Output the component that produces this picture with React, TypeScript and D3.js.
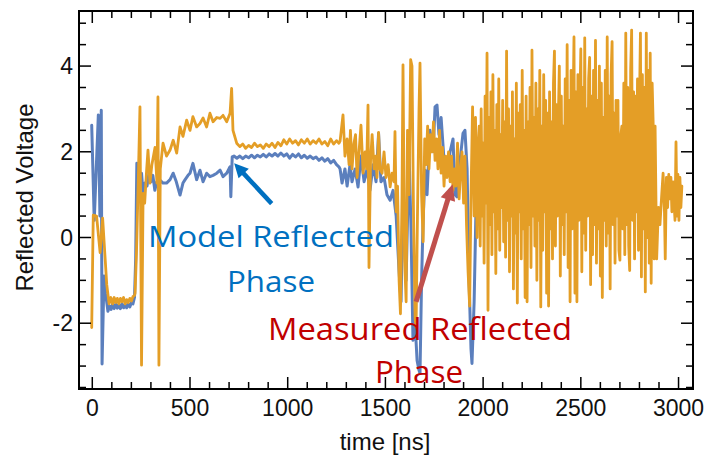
import React from "react";
import * as d3 from "d3";

type P = [number, number];

// Model reflected phase (blue): [time ns, voltage]
const modelPhase: P[] = [
  [-3, 2.62], [10, 0.4], [31, 2.86], [39, 0.5], [46, 2.97], [50, -2.95], [60, -0.9], [68, -1.3],
  [80, -1.72], [88, -1.6], [96, -1.68], [104, -1.55], [112, -1.66], [120, -1.55], [128, -1.65],
  [136, -1.56], [144, -1.66], [152, -1.55], [160, -1.64], [168, -1.56], [176, -1.64], [184, -1.55],
  [192, -1.62], [200, -1.52], [208, -1.55], [216, -1.4], [222, -0.5], [228, 1.73], [236, 1.4],
  [244, 1.2], [252, 1.5], [260, 1.03], [270, 1.27], [280, 1.2], [290, 1.5], [300, 1.3], [310, 1.45],
  [320, 1.1], [330, 1.3], [346, 1.34], [362, 1.27], [380, 1.27], [398, 1.35], [414, 1.5], [430, 1.3],
  [449, 0.99], [464, 1.27], [475, 1.35], [490, 1.45], [500, 1.5], [515, 1.73], [534, 1.35], [551, 1.57],
  [567, 1.3], [585, 1.5], [602, 1.42], [618, 1.45], [637, 1.5], [654, 1.57], [669, 1.42], [688, 1.5],
  [705, 1.65], [709, 0.95], [716, 1.88], [725, 1.9], [740, 1.85], [755, 1.9], [770, 1.84], [785, 1.9],
  [800, 1.86], [815, 1.92], [830, 1.86], [845, 1.92], [860, 1.88], [875, 1.94], [890, 1.88], [905, 1.95],
  [920, 1.9], [935, 1.96], [950, 1.9], [965, 1.97], [980, 1.9], [995, 1.95], [1010, 1.85], [1025, 1.94],
  [1040, 1.88], [1055, 1.95], [1070, 1.86], [1085, 1.92], [1100, 1.85], [1115, 1.9], [1130, 1.84],
  [1145, 1.88], [1160, 1.8], [1175, 1.86], [1190, 1.78], [1205, 1.84], [1220, 1.74], [1235, 1.8],
  [1250, 1.7], [1262, 1.65], [1268, 1.6], [1278, 1.27], [1293, 1.6], [1304, 1.2], [1319, 1.7],
  [1329, 1.3], [1345, 1.6], [1360, 1.18], [1375, 1.9], [1391, 1.3], [1406, 1.6], [1421, 1.1],
  [1437, 1.7], [1452, 1.3], [1465, 2.43], [1477, 1.3], [1493, 1.4], [1508, 1.0], [1524, 0.87],
  [1539, 1.1], [1555, 0.5], [1570, -0.8], [1580, -1.5], [1590, 1.0], [1606, -1.0], [1621, 2.0],
  [1631, 0.2], [1641, -2.4], [1652, -2.0], [1662, -2.87], [1672, -3.1], [1677, -3.17], [1685, -1.0],
  [1693, 0.4], [1703, 1.57], [1713, 1.0], [1728, 2.5], [1744, 2.0], [1754, 3.05], [1764, 3.09],
  [1774, 2.4], [1785, 2.8], [1800, 1.8], [1815, 1.5], [1831, 2.0], [1846, 2.3], [1856, 1.0],
  [1866, 0.95], [1882, 1.8], [1897, 2.43], [1907, 2.5], [1918, 1.6], [1928, -1.0], [1938, -2.6],
  [1943, -2.94], [1954, -1.5], [1964, 0.8],
];

// Measured reflected phase (orange), sparse part: [time ns, voltage]
const measuredSparse: P[] = [
  [-3, -2.1], [5, 0.52], [22, 0.5], [40, -0.35], [53, 0.45], [74, -1.1], [86, -1.55], [95, -1.4],
  [104, -1.55], [112, -1.4], [120, -1.52], [128, -1.42], [136, -1.55], [144, -1.42], [152, -1.5],
  [160, -1.4], [168, -1.55], [176, -1.45], [184, -1.52], [192, -1.42], [200, -1.48], [208, -1.38],
  [216, -1.35], [219, -1.3], [226, -0.37], [236, 1.45], [244, 3.05], [252, -2.98], [260, 1.03],
  [268, 0.8], [278, 1.57], [285, 2.04], [295, 1.27], [305, 1.7], [321, 2.1], [331, 1.27], [336, 3.28],
  [341, -2.98], [348, 1.6], [362, 2.2], [380, 1.9], [398, 2.04], [414, 2.27], [432, 1.97], [449, 2.58],
  [464, 2.36], [483, 2.74], [500, 2.5], [515, 2.82], [534, 2.58], [551, 2.66], [567, 2.79], [585, 2.58],
  [602, 2.9], [618, 2.7], [637, 2.8], [654, 2.78], [669, 2.85], [688, 2.7], [705, 2.9], [713, 3.48],
  [720, 2.5], [739, 2.2], [755, 2.12], [770, 2.18], [785, 2.08], [800, 2.15], [815, 2.1], [830, 2.2],
  [845, 2.12], [860, 2.16], [875, 2.08], [890, 2.18], [905, 2.12], [920, 2.2], [935, 2.1], [950, 2.22],
  [965, 2.14], [980, 2.28], [995, 2.18], [1010, 2.3], [1025, 2.2], [1040, 2.26], [1055, 2.16],
  [1070, 2.28], [1085, 2.2], [1100, 2.3], [1115, 2.18], [1130, 2.26], [1145, 2.2], [1160, 2.3],
  [1175, 2.18], [1190, 2.24], [1205, 2.14], [1220, 2.3], [1235, 2.18], [1250, 2.26], [1262, 2.2],
  [1268, 2.25], [1283, 2.86], [1293, 1.9], [1304, 2.3], [1314, 1.7], [1321, 2.5], [1329, 1.6],
  [1339, 2.2], [1347, 2.4], [1355, 1.4], [1365, 2.0], [1375, 2.62], [1386, 1.5], [1396, 2.0],
  [1404, 1.6], [1411, 3.09], [1416, -0.7], [1424, 1.8], [1432, 2.4], [1442, 1.6], [1450, 1.9],
  [1457, 1.4], [1465, 2.45], [1472, 1.6], [1483, 1.5], [1493, 2.0], [1503, 1.4], [1514, 1.7],
  [1524, 1.18], [1534, 1.5], [1544, 1.3], [1549, 2.47], [1555, 0.6], [1562, 1.2], [1570, -1.0],
  [1577, -1.78], [1585, 1.0], [1590, 4.03], [1598, -0.5], [1606, -1.5], [1613, 2.5], [1621, 1.0],
  [1629, 4.15], [1636, 4.0], [1644, 0.5], [1652, -1.9], [1657, -2.09], [1664, 0.5], [1672, 3.0],
  [1677, 4.07], [1685, 1.0], [1693, -0.1], [1701, 2.3], [1708, 1.7], [1716, 2.6], [1723, 1.6],
  [1731, 2.4], [1739, 2.0], [1746, 2.7], [1754, 1.8], [1762, 2.3], [1769, 1.6], [1777, 2.5],
  [1785, 1.5], [1792, 2.1], [1800, 1.2], [1808, 1.9], [1815, 1.4], [1823, 2.0], [1831, 1.3],
  [1838, 1.9], [1846, 1.1], [1854, 1.6], [1861, 1.2], [1869, 2.2], [1877, 0.9], [1884, 1.5],
  [1892, 2.0], [1900, 0.8], [1907, 1.9], [1915, 0.3], [1923, -0.8], [1931, -1.6], [1938, 1.0],
  [1946, 3.05], [1954, 0.5], [1961, 2.8], [1969, 0.0], [1975, 2.2],
];

// Measured reflected phase (orange), densely sampled noisy burst
const measuredDenseStart = 1980;
const measuredDenseStep = 5;
const measuredDense: number[] = [
  2.6, -0.2, 3.0, 0.5, 2.2, -0.6, 3.3, 0.8, 4.3, -1.7,
  2.8, 0.3, 3.4, -0.4, 3.8, 0.6, 2.5, -0.84, 3.1, 0.2,
  3.7, -0.3, 2.4, 0.7, 3.2, -0.1, 2.7, -0.46, 4.35, 0.4,
  3.0, -0.8, 2.6, 0.5, 3.4, -1.2, 2.3, 0.1, 3.6, -1.53,
  2.9, 0.6, 3.1, -0.5, 3.9, 0.2, 2.5, -1.4, 3.3, -1.5,
  2.7, 0.3, 3.5, -0.7, 4.37, 0.5, 2.8, -0.2, 3.6, -1.0,
  3.0, 0.4, 3.9, -1.62, 2.6, -0.3, 3.8, 0.6, 3.2, -1.3,
  2.9, -1.6, 3.4, 0.2, 2.7, -0.5, 3.6, 4.35, -0.2, 3.1,
  0.5, 2.8, 4.0, -0.9, 3.3, 0.3, 2.6, -0.4, 3.7, 0.6,
  4.5, -0.7, 3.2, -1.5, 3.9, 0.2, 2.9, 4.68, -1.3, 3.4,
  -1.5, 3.8, 0.4, 3.1, 4.4, -0.8, 3.5, 0.1, 4.66, -0.3,
  3.0, 0.5, 3.7, 4.2, -1.1, 3.3, -0.4, 3.9, 0.3, 4.6,
  -0.6, 3.2, 0.2, 4.0, -0.9, 3.6, -1.4, 2.8, 0.4, 3.9,
  -0.2, 4.68, 0.1, 3.3, -1.2, 3.8, 4.57, 0.3, 2.9, -0.6,
  3.2, 0.5, 3.2, -0.3, -0.53, 2.4, 2.6, 0.2, 3.6, -0.4,
  4.77, 0.3, 3.5, -0.2, -0.77, 3.9, 4.84, 0.4, 3.4, -0.5,
  3.3, 0.6, 3.7, -0.3, 3.1, 4.77, -0.92, 3.8, 0.2, 3.5,
  -1.27, 4.77, 0.0, 3.9, -0.6, 4.3, -1.07, 3.6, 2.7, -0.5,
  2.6,
];

// Measured reflected phase (orange), tail after the noisy burst
const measuredTail: P[] = [
  [2888, -0.5], [2897, 0.7], [2905, 0.3], [2914, 1.0], [2921, 1.5], [2928, 0.6], [2932, -0.5],
  [2938, 1.4], [2944, 0.7], [2950, 1.47], [2955, 0.9], [2961, 1.4], [2966, 0.6], [2972, 1.3],
  [2977, 0.8], [2982, 0.4], [2987, 2.23], [2992, 0.5], [2997, 1.47], [3002, 0.4], [3007, 1.4],
  [3012, 0.7], [3017, 1.2],
];

const xTicks = [0, 500, 1000, 1500, 2000, 2500, 3000];
const yTicks = [-2, 0, 2, 4];

// Annotation arrows in data coordinates: [tail, tip]
const modelArrow: [P, P] = [[918, 0.79], [726, 1.73]];
const measuredArrow: [P, P] = [[1657, -1.5], [1844, 1.245]];

const W = 706;
const H = 456;
const L = 79, R = 693, T = 11, B = 389;

const BLUE = "#5B7FBD";
const ORANGE = "#E49E26";

function Arrow({ from, to, color, width, head, headW }: { from: P; to: P; color: string; width: number; head: number; headW: number }) {
  const dx = to[0] - from[0];
  const dy = to[1] - from[1];
  const len = Math.hypot(dx, dy);
  const ux = dx / len, uy = dy / len;
  const bx = to[0] - ux * head, by = to[1] - uy * head;
  const px = -uy, py = ux;
  const pts = [
    [to[0], to[1]],
    [bx + px * headW / 2, by + py * headW / 2],
    [bx - px * headW / 2, by - py * headW / 2],
  ].map((p) => p.join(",")).join(" ");
  return (
    <g>
      <line x1={from[0]} y1={from[1]} x2={bx + ux * 2} y2={by + uy * 2} stroke={color} strokeWidth={width} />
      <polygon points={pts} fill={color} />
    </g>
  );
}

export default function App() {
  const x = d3.scaleLinear().domain([-68, 3074]).range([L, R]);
  const y = d3.scaleLinear().domain([-3.535, 5.285]).range([B, T]);
  const line = d3.line<P>().x((d) => x(d[0])).y((d) => y(d[1]));

  const dense: P[] = measuredDense.map((v, i) => [measuredDenseStart + i * measuredDenseStep, v]);
  const measured: P[] = [...measuredSparse, ...dense, ...measuredTail];

  const xMinor = d3.range(0, 3001, 100);
  const yMinor = d3.range(-3.5, 5.01, 0.5);
  const maj = 12, mnr = 7;
  const font = "'Liberation Sans', Arial, sans-serif";
  const annFont = "'Open Sans', 'Noto Sans', sans-serif";

  const toPx = (p: P): P => [x(p[0]), y(p[1])];

  return (
    <svg width={W} height={H} style={{ position: "absolute", left: 0, top: 0, background: "#fff" }}>
      <defs>
        <clipPath id="plot">
          <rect x={L} y={T} width={R - L} height={B - T} />
        </clipPath>
      </defs>
      <g clipPath="url(#plot)" fill="none" strokeLinejoin="round" strokeLinecap="round">
        <path d={line(modelPhase) || ""} stroke={BLUE} strokeWidth={3} />
        <path d={line(measured) || ""} stroke={ORANGE} strokeWidth={2.8} />
      </g>

      {/* frame */}
      <rect x={L} y={T} width={R - L} height={B - T} fill="none" stroke="#000" strokeWidth={2} />

      {/* ticks (all four sides, inward) */}
      <g stroke="#000" strokeWidth={1.5}>
        {xMinor.map((t) => {
          const len = t % 500 === 0 ? maj : mnr;
          const px = x(t);
          return (
            <g key={"xt" + t}>
              <line x1={px} x2={px} y1={B} y2={B - len} />
              <line x1={px} x2={px} y1={T} y2={T + len} />
            </g>
          );
        })}
        {yMinor.map((v) => {
          const len = Math.abs(v % 2) < 1e-6 ? maj : mnr;
          const py = y(v);
          return (
            <g key={"yt" + v}>
              <line x1={L} x2={L + len} y1={py} y2={py} />
              <line x1={R} x2={R - len} y1={py} y2={py} />
            </g>
          );
        })}
      </g>

      {/* tick labels */}
      <g fontFamily={font} fontSize={23} fill="#111">
        {xTicks.map((t) => (
          <text key={"xl" + t} x={x(t)} y={416} textAnchor="middle">{t}</text>
        ))}
        {yTicks.map((v) => (
          <text key={"yl" + v} x={73} y={y(v) + 8} textAnchor="end">{v}</text>
        ))}
      </g>

      {/* axis titles */}
      <text x={385} y={450} textAnchor="middle" fontFamily={font} fontSize={24} fill="#111">time [ns]</text>
      <text transform={`translate(33,197.5) rotate(-90)`} textAnchor="middle" fontFamily={font} fontSize={24} fill="#111">
        Reflected Voltage
      </text>

      {/* annotations */}
      <Arrow from={toPx(modelArrow[0])} to={toPx(modelArrow[1])} color="#0070C0" width={4.5} head={14} headW={14} />
      <Arrow from={toPx(measuredArrow[0])} to={toPx(measuredArrow[1])} color="#C0504D" width={5} head={16} headW={15} />

      <g fontFamily={annFont} fontSize={30} fill="#0070C0" textAnchor="middle">
        <text x={271} y={247} textLength={246} lengthAdjust="spacingAndGlyphs">Model Reflected</text>
        <text x={271} y={292} textLength={88} lengthAdjust="spacingAndGlyphs">Phase</text>
      </g>
      <g fontFamily={annFont} fontSize={31} fill="#C00000" textAnchor="middle">
        <text x={420} y={340} textLength={304} lengthAdjust="spacingAndGlyphs">Measured Reflected</text>
        <text x={419} y={383} textLength={88} lengthAdjust="spacingAndGlyphs">Phase</text>
      </g>
    </svg>
  );
}
